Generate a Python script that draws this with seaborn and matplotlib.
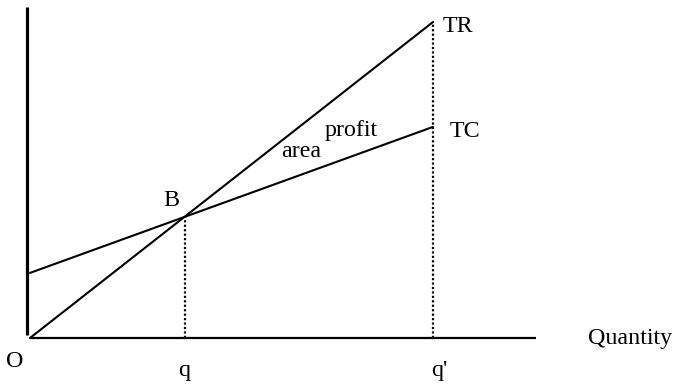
import matplotlib
matplotlib.use("Agg")
import matplotlib.pyplot as plt
import seaborn as sns
import pandas as pd

# Data (break-even chart)
quantity = [0.0, 10.0]
total_revenue = [0.0, 10.0]
total_cost = [2.06, 6.68]
q_break_even = 3.85
q_prime = 10.0
axis_labels = {"origin": "O", "x": "Quantity"}
tick_labels = ["q", "q'"]

sns.set_theme(style="white")
plt.rcParams["font.family"] = ["Liberation Serif", "DejaVu Serif"]
plt.rcParams["text.color"] = "black"

fig = plt.figure(figsize=(6.79, 3.87), dpi=100)
ax = fig.add_axes([0, 0, 1, 1])
ax.set_axis_off()

# pixel mapping: x_px = 30 + 40.3*x ; y_px = 338 - 31.6*y
sx, sy = 40.3, 31.6
ax.set_xlim(-30 / sx, (679 - 30) / sx)
ax.set_ylim(-(387 - 338) / sy, 338 / sy)

df = pd.DataFrame({"Quantity": quantity * 2,
                   "Value": total_revenue + total_cost,
                   "Curve": ["TR"] * 2 + ["TC"] * 2})
sns.lineplot(data=df, x="Quantity", y="Value", units="Curve", estimator=None,
             color="black", lw=1.5, ax=ax, legend=False)

# axes lines
ax.plot([-3.5 / sx, -3.5 / sx], [3 / sy, (338 - 7) / sy], color="black", lw=2.3,
        solid_capstyle="butt")
ax.plot([0, (536 - 30) / sx], [0, 0], color="black", lw=1.6, solid_capstyle="butt")

# dotted guides
b_val = q_break_even
ax.vlines([q_break_even], 0, b_val, colors="black", linestyles=(0, (1, 1)), lw=1.6)
ax.vlines([q_prime], 0, total_revenue[1], colors="black", linestyles=(0, (1, 1)), lw=1.6)

fs = 17.3
def px(x, y):
    return ((x - 30) / sx, (338 - y) / sy)

kw = dict(fontsize=fs, va="baseline", color="black")
ax.text(*px(15, 367), axis_labels["origin"], ha="center", **kw)
ax.text(*px(184, 376), tick_labels[0], ha="center", **kw)
ax.text(*px(439, 376), tick_labels[1], ha="center", **kw)
ax.text(*px(588, 344), axis_labels["x"], ha="left", **kw)
ax.text(*px(443, 32), "TR", ha="left", **kw)
ax.text(*px(450, 137), "TC", ha="left", **kw)
ax.text(*px(163, 206), "B", ha="left", **kw)
ax.text(*px(325, 136), "profit", ha="left", **kw)
ax.text(*px(281, 157), "area", ha="left", **kw)

fig.savefig("out.png", dpi=100, facecolor="white")
